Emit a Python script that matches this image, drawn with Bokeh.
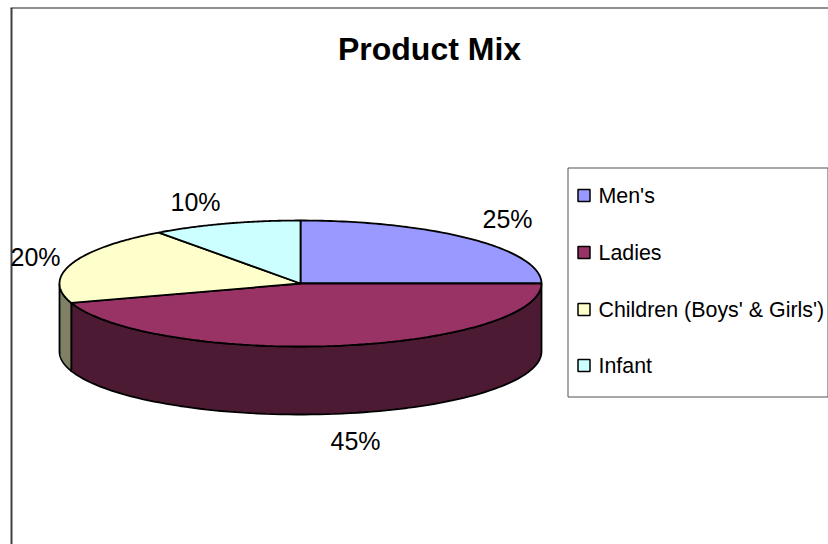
import numpy as np
from bokeh.plotting import figure
from bokeh.core.properties import value
from bokeh.embed import file_html
from bokeh.resources import INLINE

title = "Product Mix"
categories = ["Men's", "Ladies", "Children (Boys' & Girls')", "Infant"]
shares = [25, 45, 20, 10]
top_colors = ["#9999FF", "#993366", "#FFFFCC", "#CCFFFF"]
side_colors = ["#4D4D80", "#4D1A33", "#808066", "#668080"]
label_x = [507, 355, 35, 195]
label_y = [218, 440, 256, 201]
legend_y = [195, 252, 309, 365]

CX, CY, RX, RY, DEPTH = 300, 283, 241, 63, 68

p = figure(width=828, height=544, x_range=(0, 828), y_range=(544, 0),
           output_backend="svg", toolbar_location=None, min_border=0,
           outline_line_color=None, background_fill_color="white")
p.axis.visible = False
p.grid.visible = False


def arc(a, b, n=90):
    t = np.radians(np.linspace(a, b, n))
    return CX + RX * np.sin(t), CY - RY * np.cos(t)


# frame
p.line([11, 11], [544, 7.5], line_color="#404040", line_width=2)
p.line([10, 828], [7.5, 7.5], line_color="#202020", line_width=1.2)

edges = np.cumsum([0] + shares) * 3.6
# side walls (only the front half of the ellipse is visible)
for a, b, c in zip(edges[:-1], edges[1:], side_colors):
    lo, hi = max(a, 90), min(b, 270)
    if lo < hi:
        x, y = arc(lo, hi)
        p.patch(np.r_[x, x[::-1]], np.r_[y, y[::-1] + DEPTH],
                fill_color=c, line_color="black", line_width=1.8)
# top faces
for a, b, c in zip(edges[:-1], edges[1:], top_colors):
    x, y = arc(a, b)
    p.patch(np.r_[CX, x], np.r_[CY, y], fill_color=c,
            line_color="black", line_width=1.8)

# title and data labels
p.text([429], [48.5], text=[title], text_font=value("Liberation Sans"),
       text_font_style="bold", text_font_size="32px",
       text_align="center", text_baseline="middle", text_color="black")
p.text(label_x, label_y, text=[f"{s}%" for s in shares],
       text_font=value("Liberation Sans"), text_font_size="25px",
       text_align="center", text_baseline="middle", text_color="black")

# legend
p.patch([567.5, 827.5, 827.5, 567.5], [167.5, 167.5, 396.5, 396.5],
        fill_color="white", line_color="#505050", line_width=1)
p.rect([583.5] * 4, legend_y, width=12, height=12, fill_color=top_colors,
       line_color="black", line_width=1.5)
p.text([598] * 4, legend_y, text=categories,
       text_font=value("Liberation Sans"), text_font_size="21.4px",
       text_align="left", text_baseline="middle", text_color="black")

open("out.html", "w").write(file_html(p, INLINE))
